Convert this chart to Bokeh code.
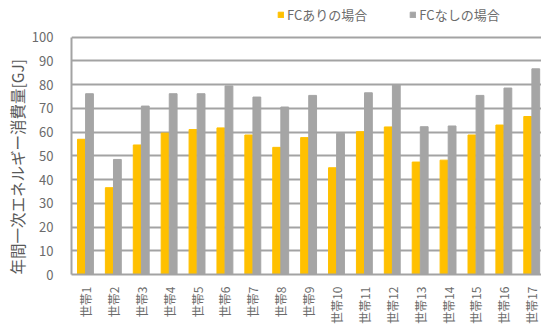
from bokeh.plotting import figure
from bokeh.models import Legend, LegendItem, FixedTicker, ColumnDataSource, Title
from bokeh.embed import file_html
from bokeh.resources import INLINE
import math

categories = ["世帯%d" % i for i in range(1, 18)]
fc_with = [57, 36.6, 54.6, 59.6, 61.1, 61.8, 58.8, 53.6, 57.7, 45, 60.2, 62.2, 47.4, 48.2, 58.8, 63, 66.6]
fc_without = [76.2, 48.5, 71, 76.2, 76.2, 79.5, 74.8, 70.6, 75.5, 59.5, 76.6, 80, 62.3, 62.6, 75.5, 78.6, 86.7]
series_names = ["FCありの場合", "FCなしの場合"]
y_ticks = [0, 10, 20, 30, 40, 50, 60, 70, 80, 90, 100]
y_title = "年間一次エネルギー消費量[GJ]"

FONT = "Noto Sans CJK JP"
TXT = "#6b6b6b"

x = list(range(1, len(categories) + 1))
src = ColumnDataSource(dict(
    x=x,
    xa=[v - 0.145 for v in x],
    xb=[v + 0.145 for v in x],
    a=fc_with,
    b=fc_without,
))

p = figure(width=541, height=326, output_backend="svg", toolbar_location=None,
           x_range=(0.5, 17.35), y_range=(0, 115.5),
           min_border_left=71, min_border_right=0, min_border_top=0, min_border_bottom=48)
p.outline_line_color = None

ra = p.vbar(x="xa", top="a", width=0.28, source=src, color="#FFC000")
rb = p.vbar(x="xb", top="b", width=0.28, source=src, color="#A5A5A5")

p.xgrid.grid_line_color = None
p.ygrid.ticker = FixedTicker(ticks=y_ticks)
p.ygrid.grid_line_color = "#a3a3a3"
p.ygrid.grid_line_width = 2

p.yaxis.ticker = FixedTicker(ticks=y_ticks)
p.yaxis.bounds = (0, 100)
p.yaxis.major_label_text_font = FONT
p.yaxis.major_label_text_font_size = "13px"
p.yaxis.major_label_text_color = TXT
p.yaxis.major_label_standoff = 12
p.yaxis.major_tick_line_color = None
p.yaxis.minor_tick_line_color = None
p.yaxis.axis_line_color = "#a3a3a3"
p.yaxis.axis_line_width = 2

ttl = Title(text=y_title, align="left", offset=0, vertical_align="middle",
            text_font=FONT, text_font_size="15.5px", text_font_style="normal",
            text_color="#595959", standoff=0)
p.add_layout(ttl, "left")

p.xaxis.ticker = FixedTicker(ticks=x)
p.xaxis.major_label_overrides = {i: c for i, c in zip(x, categories)}
p.xaxis.major_label_orientation = math.pi / 2
p.xaxis.major_label_text_font = FONT
p.xaxis.major_label_text_font_size = "12px"
p.xaxis.major_label_text_color = TXT
p.xaxis.major_label_standoff = 6
p.xaxis.major_tick_line_color = None
p.xaxis.minor_tick_line_color = None
p.xaxis.axis_line_color = "#a3a3a3"
p.xaxis.axis_line_width = 2

legend = Legend(items=[LegendItem(label=series_names[0], renderers=[ra]),
                       LegendItem(label=series_names[1], renderers=[rb])],
                orientation="horizontal", location=(206, 250))
legend.label_text_font = FONT
legend.label_text_font_size = "13px"
legend.label_text_color = TXT
legend.glyph_width = 7
legend.glyph_height = 7
legend.spacing = 42
legend.label_standoff = 3
legend.padding = 0
legend.margin = 0
legend.border_line_color = None
legend.background_fill_alpha = 0
p.add_layout(legend)

open("out.html", "w").write(file_html(p, INLINE))
